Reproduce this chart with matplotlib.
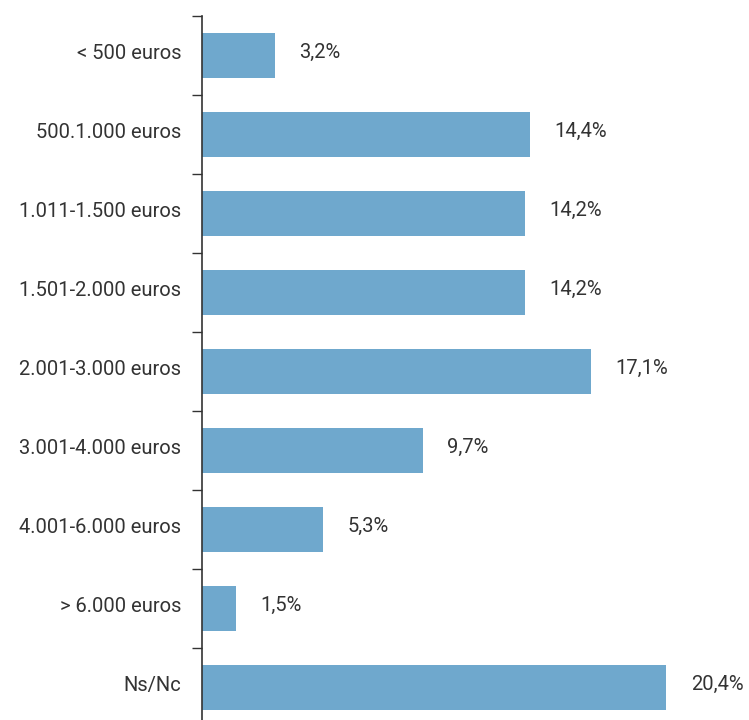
import matplotlib.pyplot as plt

plt.rcParams['font.family'] = ['Roboto', 'DejaVu Sans']

# tramos de ingresos mensuales
categorias = ['< 500 euros', '500.1.000 euros', '1.011-1.500 euros',
              '1.501-2.000 euros', '2.001-3.000 euros', '3.001-4.000 euros',
              '4.001-6.000 euros', '> 6.000 euros', 'Ns/Nc']
valores = [3.2, 14.4, 14.2, 14.2, 17.1, 9.7, 5.3, 1.5, 20.4]
etiquetas = ['3,2%', '14,4%', '14,2%', '14,2%', '17,1%', '9,7%', '5,3%', '1,5%', '20,4%']

color_barra = '#6fa8cd'
color_texto = '#333333'
tam = 14.5

fig = plt.figure(figsize=(7.49, 7.2), dpi=100)
ax = fig.add_axes([0.2697, -0.0097, 0.7303, 0.9875])

pos = list(range(len(categorias)))
ax.barh(pos, valores, height=0.58, color=color_barra, zorder=2)

# los textos van un poco por encima del centro de la barra
dy = 0.045
for p, v, t in zip(pos, valores, etiquetas):
    ax.text(v + 1.08, p - dy, t, va='center', ha='left', fontsize=tam, color=color_texto)

ax.set_xlim(0, 24.04)
ax.set_ylim(8.5, -0.5)

ax.set_yticks([p - dy for p in pos])
ax.set_yticklabels(categorias, fontsize=tam, color=color_texto)
ax.set_yticks([p - 0.5 for p in pos] + [8.5], minor=True)
ax.tick_params(axis='y', which='major', length=0, pad=15)
ax.tick_params(axis='y', which='minor', length=7, width=1, color=color_texto)
ax.set_xticks([])

for lado in ['top', 'right', 'bottom']:
    ax.spines[lado].set_visible(False)
ax.spines['left'].set_color(color_texto)
ax.spines['left'].set_linewidth(1.2)

fig.savefig('out.png', dpi=100)
